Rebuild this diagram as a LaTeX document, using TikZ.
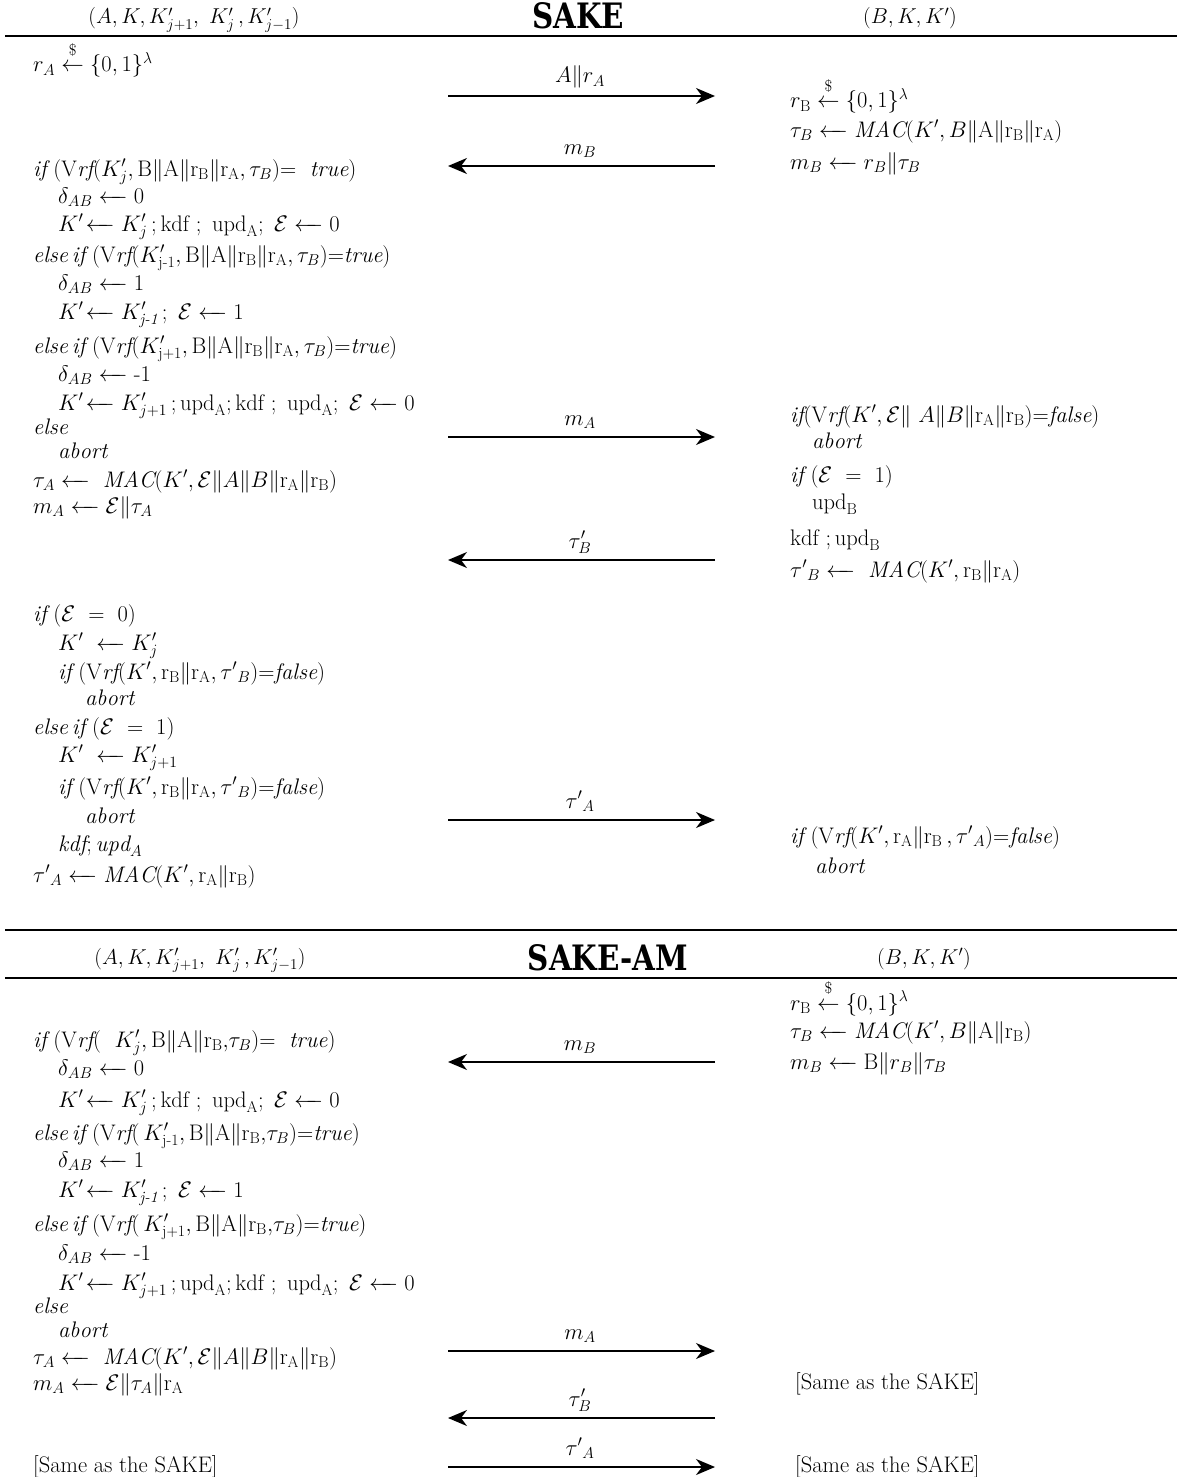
\documentclass[tikz,border=0pt]{standalone}
\RequirePackage{fix-cm}
\usepackage{amsmath}
\usepackage{fontspec}
\usetikzlibrary{arrows.meta}
\newfontfamily\titlefont{DejaVu Serif}[FakeStretch=0.84]
\newcommand{\rAu}{\mathrm{r}_{\mathrm{A}}}
\newcommand{\rBu}{\mathrm{r}_{\mathrm{B}}}
\newcommand{\Ep}{\mathcal{E}}
\newcommand{\lar}{\mathrel{\leftarrow\mkern-9mu\relbar}}
\newcommand{\Vrf}{\mathrm{V}\mathit{rf}}
\newcommand{\Kp}{K^{\prime}}
\newcommand{\upA}{\mathrm{upd}_{\mathrm{A}}}
\newcommand{\upB}{\mathrm{upd}_{\mathrm{B}}}
\newcommand{\kdf}{\mathrm{kdf}}
\newcommand{\samp}{\mathrel{\stackrel{\raisebox{4pt}{$\scriptstyle\$$}}{\leftarrow}}}
\newcommand{\mif}{\mathit{if}}
\newcommand{\melse}{\mathit{else}}
\newcommand{\abrt}{\mathit{abort}}
\begin{document}
\begin{tikzpicture}[x=1pt,y=-1pt,
  ln/.style={anchor=base west, inner sep=0pt, font=\fontsize{22.5}{27}\selectfont},
  lbl/.style={anchor=base, inner sep=0pt, font=\fontsize{22.5}{27}\selectfont},
  hdr/.style={anchor=base, inner sep=0pt, font=\fontsize{21.5}{26}\selectfont},
  ttl/.style={anchor=base, inner sep=0pt, font=\titlefont\bfseries\fontsize{35}{40}\selectfont},
  msg/.style={line width=1.6pt, -{Stealth[length=19pt,width=16pt,inset=6pt]}},
  rulebar/.style={line width=1.6pt}]
\useasboundingbox (0,0) rectangle (1177,1477);
\fill[white] (0,0) rectangle (1177,1477);

% ===== SAKE header =====
\node[hdr] (h1a) at (194,24) {$(A, K, K^{\prime}_{j+1},\ K^{\prime}_{j}\,, K^{\prime}_{j-1})$};
\node[ttl] (h1t) at (578,29) {SAKE};
\node[hdr] (h1b) at (910,24) {$(B, K, K')$};
\coordinate (r1l) at (5,36); \coordinate (r1r) at (1177,36);
\draw[rulebar] (r1l) -- (r1r);

% ===== SAKE left =====
\node[ln] (a1) at (33,72) {$r_A \samp \{0,1\}^{\lambda}$};
\node[ln] (a2) at (33,176) {$\mif\ (\Vrf(K^{\prime}_{j},\mathrm{B}\|\mathrm{A}\|\rBu\|\rAu,\tau_B){=}\ \ \mathit{true})$};
\node[ln] (a3) at (58,203) {$\delta_{AB} \lar 0$};
\node[ln] (a4) at (58,231) {$\Kp\!\lar K^{\prime}_{j}\,;\kdf\ ;\ \upA;\ \Ep \lar 0$};
\node[ln] (a5) at (33,262) {$\melse\,\mif\ (\Vrf(K^{\prime}_{\text{j-1}},\mathrm{B}\|\mathrm{A}\|\rBu\|\rAu,\tau_B){=}\mathit{true})$};
\node[ln] (a6) at (58,290) {$\delta_{AB} \lar 1$};
\node[ln] (a7) at (58,319) {$\Kp\!\lar K^{\prime}_{\textit{j-1}}\,;\ \Ep \lar 1$};
\node[ln] (a8) at (33,353) {$\melse\,\mif\ (\Vrf(K^{\prime}_{\text{j+1}},\mathrm{B}\|\mathrm{A}\|\rBu\|\rAu,\tau_B){=}\mathit{true})$};
\node[ln] (a9) at (58,381) {$\delta_{AB} \lar \text{-1}$};
\node[ln] (a10) at (58,410) {$\Kp\!\lar K^{\prime}_{j+1}\,;\upA;\kdf\ ;\ \upA;\ \Ep \lar 0$};
\node[ln] (a11) at (33,434) {$\melse$};
\node[ln] (a12) at (58,458) {$\abrt$};
\node[ln] (a13) at (33,487) {$\tau_A \lar\ \mathit{MAC}(\Kp,\Ep\|A\|B\|\rAu\|\rBu)$};
\node[ln] (a14) at (33,513) {$m_A \lar \Ep\|\tau_A$};

\node[ln] (b1) at (33,621) {$\mif\ (\Ep\ =\ 0)$};
\node[ln] (b2) at (58,650) {$\Kp\ \lar K^{\prime}_{j}$};
\node[ln] (b3) at (58,679) {$\mif\ (\Vrf(\Kp,\rBu\|\rAu,{\tau'}_{B}){=}\mathit{false})$};
\node[ln] (b4) at (85,705) {$\abrt$};
\node[ln] (b5) at (33,734) {$\melse\,\mif\ (\Ep\ =\ 1)$};
\node[ln] (b6) at (58,762) {$\Kp\ \lar K^{\prime}_{j+1}$};
\node[ln] (b7) at (58,794) {$\mif\ (\Vrf(\Kp,\rBu\|\rAu,{\tau'}_{B}){=}\mathit{false})$};
\node[ln] (b8) at (85,823) {$\abrt$};
\node[ln] (b9) at (58,851) {$\mathit{kdf};\mathit{upd}_{A}$};
\node[ln] (b10) at (33,882) {${\tau'}_{A} \lar \mathit{MAC}(\Kp,\rAu\|\rBu)$};

% ===== SAKE right =====
\node[ln] (c1) at (790,108) {$r_{\mathrm{B}} \samp \{0,1\}^{\lambda}$};
\node[ln] (c2) at (790,137) {$\tau_B \lar \mathit{MAC}(\Kp,B\|\mathrm{A}\|\rBu\|\rAu)$};
\node[ln] (c3) at (790,169) {$m_B \lar r_B\|\tau_B$};
\node[ln] (c4) at (790,422) {$\mif(\Vrf(\Kp,\Ep\|\ A\|B\|\rAu\|\rBu){=}\mathit{false})$};
\node[ln] (c5) at (812,448) {$\abrt$};
\node[ln] (c6) at (790,482) {$\mif\ (\Ep\ =\ 1)$};
\node[ln] (c7) at (812,509) {$\upB$};
\node[ln] (c8) at (790,545) {$\kdf\ ;\upB$};
\node[ln] (c9) at (790,577) {${\tau'}_{B} \lar\ \mathit{MAC}(\Kp,\rBu\|\rAu)$};
\node[ln] (c10) at (790,843) {$\mif\ (\Vrf(\Kp,\rAu\|\rBu\,,{\tau'}_{A}){=}\mathit{false})$};
\node[ln] (c11) at (815,873) {$\abrt$};

% ===== SAKE messages =====
\coordinate (m1l) at (448,96);  \coordinate (m1r) at (715,96);
\coordinate (m2l) at (448,166); \coordinate (m2r) at (715,166);
\coordinate (m3l) at (448,437); \coordinate (m3r) at (715,437);
\coordinate (m4l) at (448,560); \coordinate (m4r) at (715,560);
\coordinate (m5l) at (448,820); \coordinate (m5r) at (715,820);
\draw[msg] (m1l) -- (m1r);
\draw[msg] (m2r) -- (m2l);
\draw[msg] (m3l) -- (m3r);
\draw[msg] (m4r) -- (m4l);
\draw[msg] (m5l) -- (m5r);
\node[lbl] (l1) at (580,83) {$A\|r_A$};
\node[lbl] (l2) at (580,154) {$m_B$};
\node[lbl] (l3) at (580,425) {$m_A$};
\node[lbl] (l4) at (580,548) {$\tau^{\prime}_{B}$};
\node[lbl] (l5) at (580,808) {${\tau'}_{A}$};

% ===== SAKE-AM header =====
\coordinate (r2l) at (5,930); \coordinate (r2r) at (1177,930);
\coordinate (r3l) at (5,978); \coordinate (r3r) at (1177,978);
\draw[rulebar] (r2l) -- (r2r);
\draw[rulebar] (r3l) -- (r3r);
\node[hdr] (h2a) at (200,964) {$(A, K, K^{\prime}_{j+1},\ K^{\prime}_{j}\,, K^{\prime}_{j-1})$};
\node[ttl] (h2t) at (608,970) {SAKE-AM};
\node[hdr] (h2b) at (924,964) {$(B, K, K')$};

% ===== SAKE-AM left =====
\node[ln] (d1) at (33,1047) {$\mif\ (\Vrf(\ \ K^{\prime}_{j},\mathrm{B}\|\mathrm{A}\|\rBu{,}\tau_B){=}\ \ \mathit{true})$};
\node[ln] (d2) at (58,1075) {$\delta_{AB} \lar 0$};
\node[ln] (d3) at (58,1107) {$\Kp\!\lar K^{\prime}_{j}\,;\kdf\ ;\ \upA;\ \Ep \lar 0$};
\node[ln] (d4) at (33,1140) {$\melse\,\mif\ (\Vrf(\,K^{\prime}_{\text{j-1}},\mathrm{B}\|\mathrm{A}\|\rBu{,}\tau_B){=}\mathit{true})$};
\node[ln] (d5) at (58,1167) {$\delta_{AB} \lar 1$};
\node[ln] (d6) at (58,1197) {$\Kp\!\lar K^{\prime}_{\textit{j-1}}\,;\ \Ep \lar 1$};
\node[ln] (d7) at (33,1231) {$\melse\,\mif\ (\Vrf(\,K^{\prime}_{\text{j+1}},\mathrm{B}\|\mathrm{A}\|\rBu{,}\tau_B){=}\mathit{true})$};
\node[ln] (d8) at (58,1260) {$\delta_{AB} \lar \text{-1}$};
\node[ln] (d9) at (58,1290) {$\Kp\!\lar K^{\prime}_{j+1}\,;\upA;\kdf\ ;\ \upA;\ \Ep \lar 0$};
\node[ln] (d10) at (33,1313) {$\melse$};
\node[ln] (d11) at (58,1337) {$\abrt$};
\node[ln] (d12) at (33,1364) {$\tau_A \lar\ \mathit{MAC}(\Kp,\Ep\|A\|B\|\rAu\|\rBu)$};
\node[ln] (d13) at (33,1390) {$m_A \lar \Ep\|\tau_A\|\rAu$};
\node[ln] (d14) at (33,1472) {[Same as the SAKE]};

% ===== SAKE-AM right =====
\node[ln] (e1) at (790,1010) {$r_{\mathrm{B}} \samp \{0,1\}^{\lambda}$};
\node[ln] (e2) at (790,1038) {$\tau_B \lar \mathit{MAC}(\Kp,B\|\mathrm{A}\|\rBu)$};
\node[ln] (e3) at (790,1069) {$m_B \lar \mathrm{B}\|r_B\|\tau_B$};
\node[ln] (e4) at (795,1389) {[Same as the SAKE]};
\node[ln] (e5) at (795,1472) {[Same as the SAKE]};

% ===== SAKE-AM messages =====
\coordinate (n1l) at (448,1062); \coordinate (n1r) at (715,1062);
\coordinate (n2l) at (448,1351); \coordinate (n2r) at (715,1351);
\coordinate (n3l) at (448,1418); \coordinate (n3r) at (715,1418);
\coordinate (n4l) at (448,1467); \coordinate (n4r) at (715,1467);
\draw[msg] (n1r) -- (n1l);
\draw[msg] (n2l) -- (n2r);
\draw[msg] (n3r) -- (n3l);
\draw[msg] (n4l) -- (n4r);
\node[lbl] (k1) at (580,1050) {$m_B$};
\node[lbl] (k2) at (580,1339) {$m_A$};
\node[lbl] (k3) at (580,1406) {$\tau^{\prime}_{B}$};
\node[lbl] (k4) at (580,1455) {${\tau'}_{A}$};
\end{tikzpicture}
\end{document}
